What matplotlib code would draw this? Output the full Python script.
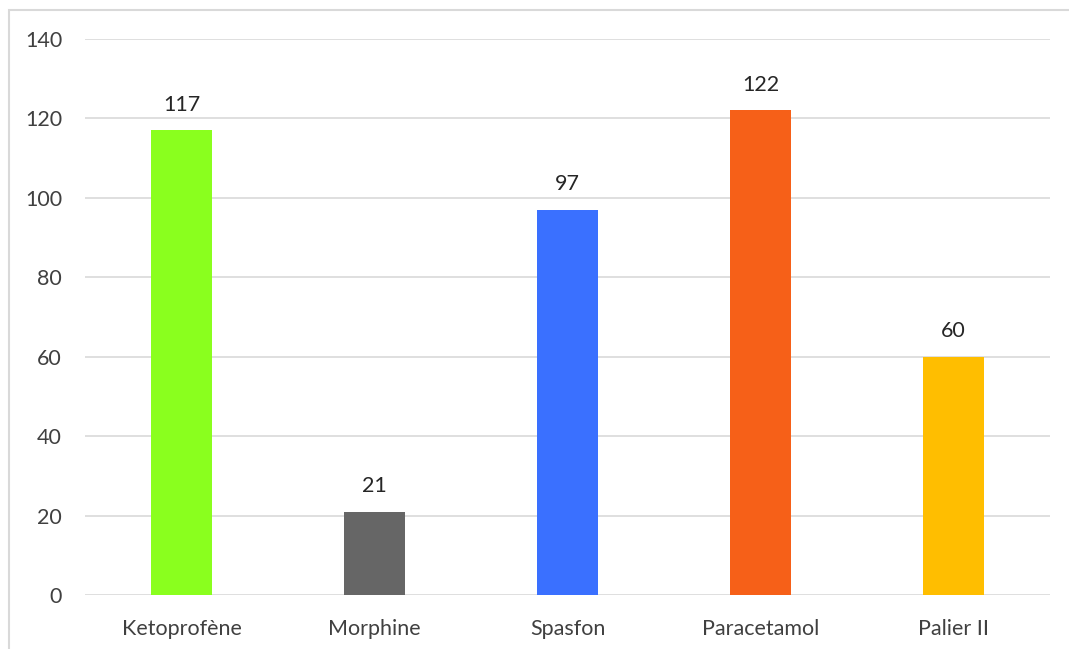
import matplotlib
matplotlib.use("Agg")
from matplotlib import pyplot as plt
from matplotlib.patches import Rectangle

# data
categories = ["Ketoprofène", "Morphine", "Spasfon", "Paracetamol", "Palier II"]
values = [117, 21, 97, 122, 60]
colors = ["#8AFF1E", "#666666", "#3A70FF", "#F66018", "#FFBE00"]
yticks = [0, 20, 40, 60, 80, 100, 120, 140]

plt.rcParams['font.family'] = ['Lato', 'DejaVu Sans']

fig = plt.figure(figsize=(10.69, 6.49), dpi=100)
ax = fig.add_axes([85 / 1069, 1 - 595 / 649, (1050 - 85) / 1069, (595 - 39) / 649])

x = range(len(categories))
bars = ax.bar(x, values, width=0.316, color=colors, zorder=3)
for xi, v in zip(x, values):
    ax.annotate(str(v), (xi, v), xytext=(0, 11), textcoords="offset points",
                ha="center", va="bottom", fontsize=15.5, color="#262626")

ax.set_xlim(-0.5, len(categories) - 0.5)
ax.set_ylim(0, 140)
ax.set_yticks(yticks)
ax.set_xticks(list(x))
ax.set_xticklabels(categories)
ax.tick_params(axis="both", length=0, labelsize=15.5, labelcolor="#404040")
ax.tick_params(axis="y", pad=16.5)
ax.tick_params(axis="x", pad=17)
ax.grid(axis="y", color="#D9D9D9", linewidth=1.2, zorder=0)
for s in ax.spines.values():
    s.set_visible(False)

# outer chart border
fig.patches.append(Rectangle((9 / 1069, -0.1), 1.2, 1 - 10 / 649 + 0.1,
                             transform=fig.transFigure, fill=False,
                             edgecolor="#D9D9D9", linewidth=1.5))

fig.savefig("out.png", dpi=100)
